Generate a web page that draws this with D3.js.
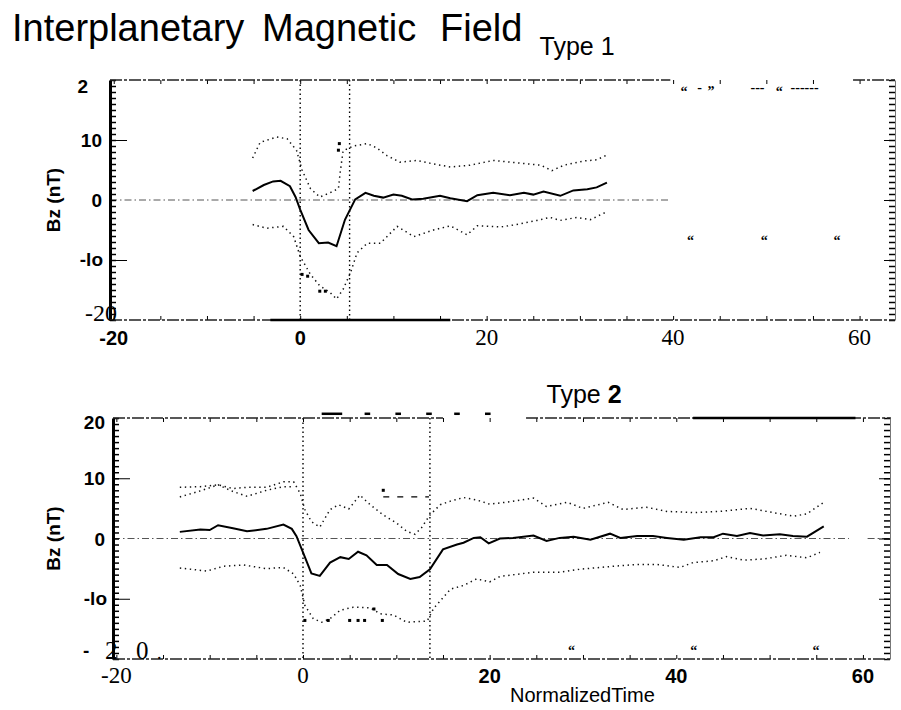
<!DOCTYPE html>
<html>
<head>
<meta charset="utf-8">
<script src="https://cdn.jsdelivr.net/npm/d3@7"></script>
<style>
  body { margin: 0; background: #fff; }
  svg { display: block; }
</style>
</head>
<body>
<div id="chart"></div>
<script>
// ---- data: [normalized time, Bz nT] ----
var t1Mean = [[-5.1,1.5],[-3.9,2.5],[-2.9,3.1],[-2.1,3.2],[-1.1,2.3],[-0.5,0.5],[0,-1.6],[0.9,-5.0],[2.0,-7.2],[3.0,-7.1],[3.9,-7.7],[4.8,-3.3],[5.9,0.1],[7.0,1.2],[7.9,0.7],[8.9,0.4],[10.0,0.9],[10.9,0.7],[12.0,0.1],[13.2,0.2],[15.0,0.7],[16.1,0.3],[17.9,-0.2],[19.0,0.8],[20.7,1.2],[22.5,0.8],[24.0,1.2],[25.0,0.9],[26.1,1.4],[27.9,0.7],[29.3,1.6],[30.8,1.8],[31.8,2.1],[32.9,2.9]];
var t1Upper = [[-5.1,7.0],[-4.3,9.6],[-2.5,10.5],[-1.4,10.2],[-0.4,8.3],[0.2,5.0],[1.1,1.9],[2.1,0.5],[3.2,1.2],[4.1,1.9],[4.3,4.7],[4.6,8.2],[5.7,9.0],[7.2,9.4],[8.2,8.7],[9.3,7.4],[10.7,6.3],[12.5,6.6],[14.3,6.0],[16.1,5.5],[18.2,5.8],[20.7,6.6],[23.2,6.2],[25.8,5.8],[27.0,4.9],[28.3,5.8],[30.4,6.5],[31.8,6.7],[32.9,7.5]];
var t1Lower = [[-5.1,-4.1],[-3.6,-4.7],[-1.8,-4.4],[-0.7,-6.1],[0,-9.4],[1.1,-12.4],[2.1,-14.3],[3.2,-15.4],[3.9,-16.5],[4.6,-14.9],[5.4,-12.1],[6.1,-8.8],[7.2,-7.2],[8.6,-7.2],[10.4,-4.4],[12.2,-6.1],[14.3,-5.0],[16.1,-4.3],[17.9,-5.8],[19.0,-4.3],[21.5,-4.5],[23.2,-4.1],[25.4,-3.4],[26.8,-2.9],[27.9,-3.4],[29.7,-2.9],[31.1,-3.3],[32.7,-2.1]];
var t1Specks = [[0.2,-12.4],[0.8,-12.7],[2.1,-15.2],[2.7,-15.2],[4.1,8.3],[4.2,9.4]];
var t1Bounds = [0, 5.3];

var t2Mean = [[-13.2,1.1],[-11.0,1.5],[-10.0,1.4],[-9.1,2.2],[-7.5,1.7],[-6.0,1.2],[-3.9,1.6],[-2.1,2.3],[-1.2,1.6],[-0.7,0.4],[0,-2.3],[0.9,-5.8],[1.8,-6.2],[2.9,-4.0],[4.0,-3.1],[4.9,-3.4],[5.9,-2.2],[6.8,-2.8],[7.9,-4.4],[9.0,-4.4],[10.2,-5.9],[11.5,-6.7],[12.5,-6.4],[13.6,-5.1],[15.0,-1.8],[16.5,-1.0],[17.2,-0.7],[18.3,0.1],[19.0,0.2],[19.9,-0.8],[21.1,0.0],[22.5,0.1],[24.7,0.5],[26.1,-0.4],[27.5,0.1],[29.0,0.3],[30.8,-0.2],[32.9,0.8],[34.0,0.1],[35.8,0.4],[37.5,0.4],[39.0,0.1],[40.8,-0.2],[42.6,0.2],[44.0,0.2],[45.0,0.8],[46.5,0.4],[47.9,0.9],[49.3,0.5],[51.1,0.7],[52.5,0.4],[54.0,0.3],[55.8,2.0]];
var t2Upper = [[-13.2,8.5],[-11.0,8.6],[-9.1,8.9],[-7.5,8.3],[-6.0,8.5],[-3.9,8.5],[-2.1,9.4],[-1.0,9.4],[-0.3,7.5],[0.2,4.8],[0.9,2.8],[1.8,1.9],[2.9,4.8],[3.8,5.6],[4.9,4.9],[6.1,7.2],[7.2,5.6],[8.6,3.9],[10.0,2.6],[11.1,1.2],[12.0,0.7],[12.7,1.8],[13.6,3.9],[14.7,5.6],[15.8,6.2],[17.2,6.8],[18.6,6.4],[20.0,5.7],[22.2,6.1],[24.7,6.7],[26.1,5.3],[28.3,6.0],[30.0,5.0],[32.7,6.0],[34.3,4.8],[36.8,5.2],[39.0,4.5],[41.8,4.3],[44.7,4.5],[47.9,5.0],[50.4,4.3],[52.6,3.7],[54.0,4.1],[55.8,6.0]];
var t2UpperGhost = [[-13.2,6.9],[-11.0,7.9],[-9.1,8.9],[-7.5,7.8],[-6.0,7.0],[-3.9,8.0],[-2.1,8.6],[-1.0,8.6]];
var t2Lower = [[-13.2,-4.9],[-10.3,-5.4],[-8.5,-4.6],[-6.4,-4.4],[-3.9,-5.0],[-2.1,-4.8],[-1.0,-5.9],[-0.3,-7.8],[0.2,-11.1],[1.1,-13.3],[2.0,-13.9],[2.9,-13.3],[4.0,-11.9],[5.4,-11.4],[7.2,-11.5],[8.3,-12.5],[9.7,-12.7],[11.1,-13.9],[13.3,-13.7],[14.0,-11.6],[15.8,-8.4],[17.2,-7.8],[18.6,-6.7],[20.0,-7.2],[21.1,-6.3],[24.7,-5.6],[27.5,-5.6],[29.7,-5.1],[33.3,-4.6],[35.8,-4.3],[37.9,-4.3],[40.4,-4.8],[41.8,-4.0],[44.0,-3.7],[45.4,-3.0],[47.2,-3.6],[49.3,-3.4],[51.8,-2.8],[54.0,-3.2],[55.4,-2.3]];
var t2Specks = [[0.2,-13.6],[2.7,-13.6],[5.0,-13.6],[5.9,-13.6],[6.6,-13.6],[8.5,-13.6],[7.6,-11.7],[8.6,8.0]];
var t2Bounds = [0, 13.6];

// tick labels as printed (scan/OCR text kept as is)
var xTicks = [-20, 0, 20, 40, 60];
var t1XLabels = ["-20", "0", "20", "40", "60"];
var t2XLabels = ["-20", "0", "20", "40", "60"];
var yTicks = [-20, -10, 0, 10, 20];
var t1YLabels = ["-20", "-lo", "0", "10", "2"];
var t2YLabels = ["", "-lo", "0", "10", "20"];
var t2BottomLabel = ["-", "2", "0", "."];   // the broken "- 2 0." at the foot of panel 2

var sans = "'Liberation Sans', Arial, sans-serif";
var serif = "'Liberation Serif', 'Times New Roman', serif";

var svg = d3.select("#chart").append("svg")
    .attr("width", 901)
    .attr("height", 710);

// title, words spread out like the original
var title = svg.append("text")
    .attr("y", 41)
    .style("font-family", sans)
    .style("font-size", "38px");
title.append("tspan").attr("x", 12).text("Interplanetary");
title.append("tspan").attr("x", 262).text("Magnetic");
title.append("tspan").attr("x", 440).text("Field");

function drawPanel(o) {
    var x = d3.scaleLinear().domain(o.xDomain).range(o.xRange);
    var y = d3.scaleLinear().domain([-20, 20]).range(o.yRange);
    var g = svg.append("g");
    var line = d3.line().x(d => x(d[0])).y(d => y(d[1]));

    // zero reference, dash-dot
    o.zeroSegs.forEach(s => {
        g.append("line")
            .attr("x1", x(s[0])).attr("x2", x(s[1]))
            .attr("y1", y(0)).attr("y2", y(0))
            .attr("stroke", "#555")
            .attr("stroke-width", 1)
            .attr("stroke-dasharray", "7,3,1.5,3");
    });

    // event boundaries
    o.bounds.forEach(b => {
        g.append("line")
            .attr("x1", x(b)).attr("x2", x(b))
            .attr("y1", y(20)).attr("y2", y(-20))
            .attr("stroke", "#000")
            .attr("stroke-width", 1.4)
            .attr("stroke-dasharray", "1.5,3");
    });

    // +/- sigma envelopes, dotted
    o.dotted.forEach(d => {
        g.append("path")
            .datum(d)
            .attr("d", line)
            .attr("fill", "none")
            .attr("stroke", "#111")
            .attr("stroke-width", 1.5)
            .attr("stroke-dasharray", "1.4,3.6");
    });

    // mean
    g.append("path")
        .datum(o.mean)
        .attr("d", line)
        .attr("fill", "none")
        .attr("stroke", "#000")
        .attr("stroke-width", 2);

    g.selectAll(".speck")
        .data(o.specks)
        .enter()
        .append("rect")
        .attr("x", d => x(d[0]) - 1.5)
        .attr("y", d => y(d[1]) - 1.5)
        .attr("width", 3)
        .attr("height", 3)
        .attr("fill", "#000");

    // left axis: dense minor ticks + longer marks at +-10
    var left = g.append("g")
        .attr("transform", "translate(" + o.xRange[0] + ",0)")
        .call(d3.axisRight(y).ticks(40).tickSize(6).tickSizeOuter(0).tickFormat(""));
    left.select(".domain").attr("stroke-width", 3);
    left.selectAll(".tick line").attr("stroke-width", 1.5);
    g.append("g")
        .attr("transform", "translate(" + o.xRange[0] + ",0)")
        .call(d3.axisRight(y).tickValues([-10, 10]).tickSize(17).tickSizeOuter(0).tickFormat(""))
        .select(".domain").remove();

    // right axis
    var right = g.append("g")
        .attr("transform", "translate(" + o.xRange[1] + ",0)")
        .call(d3.axisLeft(y).ticks(40).tickSize(6).tickSizeOuter(0).tickFormat(""));
    right.select(".domain").attr("stroke", "#777").attr("stroke-width", 1);
    right.selectAll(".tick line").attr("stroke-width", 1.5);
    g.append("g")
        .attr("transform", "translate(" + o.xRange[1] + ",0)")
        .call(d3.axisLeft(y).tickValues([-10, 0, 10]).tickSize(11).tickSizeOuter(0).tickFormat(""))
        .select(".domain").remove();

    // top and bottom frames: broken scan lines with small inward ticks
    var every5 = d3.range(-20, 65, 5);
    g.append("g")
        .attr("transform", "translate(0," + y(20) + ")")
        .call(d3.axisBottom(x).tickValues(every5).tickSize(4).tickFormat(""))
        .select(".domain").remove();
    g.append("g")
        .attr("transform", "translate(0," + y(-20) + ")")
        .call(d3.axisTop(x).tickValues(every5).tickSize(4).tickFormat(""))
        .select(".domain").remove();
    o.topSegs.forEach(s => {
        g.append("line")
            .attr("x1", x(s[0])).attr("x2", x(s[1]))
            .attr("y1", y(20)).attr("y2", y(20))
            .attr("stroke", "#222").attr("stroke-width", 1.5)
            .attr("stroke-dasharray", "12,2,3,2");
    });
    g.append("line")
        .attr("x1", x(o.xDomain[0])).attr("x2", x(o.xDomain[1]))
        .attr("y1", y(-20)).attr("y2", y(-20))
        .attr("stroke", "#222").attr("stroke-width", 1.5)
        .attr("stroke-dasharray", "12,2,3,2");
    o.solidSegs.forEach(s => {
        g.append("line")
            .attr("x1", x(s[0])).attr("x2", x(s[1]))
            .attr("y1", y(s[2])).attr("y2", y(s[2]))
            .attr("stroke", "#000").attr("stroke-width", s[3]);
    });

    // x tick labels
    g.selectAll(".xl")
        .data(xTicks)
        .enter()
        .append("text")
        .attr("x", d => x(d))
        .attr("y", o.xLabelY)
        .attr("text-anchor", "middle")
        .style("font-family", (d, i) => o.xSerif[i] ? serif : sans)
        .style("font-weight", (d, i) => o.xSerif[i] ? "normal" : "bold")
        .style("font-size", (d, i) => o.xSerif[i] ? "23px" : "20px")
        .text((d, i) => o.xLabels[i]);

    // y tick labels
    g.selectAll(".yl")
        .data(yTicks)
        .enter()
        .append("text")
        .attr("x", (d, i) => o.yLabelX[i])
        .attr("y", (d, i) => y(d) + o.yLabelDy[i])
        .attr("text-anchor", "end")
        .style("font-family", (d, i) => o.ySerif[i] ? serif : sans)
        .style("font-weight", (d, i) => o.ySerif[i] ? "normal" : "bold")
        .style("font-size", (d, i) => o.ySerif[i] ? "24px" : "19px")
        .text((d, i) => o.yLabels[i]);

    g.append("text")
        .attr("transform", "translate(60," + y(0) + ") rotate(-90)")
        .attr("text-anchor", "middle")
        .style("font-family", sans)
        .style("font-weight", "bold")
        .style("font-size", "19px")
        .text("Bz (nT)");

    // stray print marks
    g.selectAll(".noise")
        .data(o.noise)
        .enter()
        .append("text")
        .attr("x", d => x(d[0]))
        .attr("y", d => y(d[1]) + (d[2].indexOf("-") >= 0 ? 4 : 8))
        .style("font-family", serif)
        .style("font-weight", "bold")
        .style("font-size", "14px")
        .style("white-space", "pre")
        .text(d => d[2]);

    g.append("text")
        .attr("x", (x(o.xDomain[0]) + x(o.xDomain[1])) / 2 + o.typeDx)
        .attr("y", y(20) + o.typeDy)
        .style("font-family", sans)
        .style("font-size", "25px")
        .call(t => {
            t.append("tspan").text("Type ");
            t.append("tspan").style("font-weight", o.typeBold ? "bold" : "normal").text(o.typeNum);
        });

    return { x: x, y: y, g: g };
}

drawPanel({
    xDomain: [-20.4, 63.8], xRange: [110, 895], yRange: [320, 80],
    mean: t1Mean, dotted: [t1Upper, t1Lower], specks: t1Specks, bounds: t1Bounds,
    zeroSegs: [[-20.4, 39.7]],
    topSegs: [[-20.4, 39.7], [59.3, 63.8]],
    solidSegs: [[-3.2, 16.1, -20, 2.5]],
    xLabels: t1XLabels, xSerif: [false, false, true, true, true], xLabelY: 345,
    yLabels: t1YLabels, ySerif: [true, false, false, false, false],
    yLabelX: [117, 103, 102, 102, 88], yLabelDy: [1, 6, 7, 7, 13],
    noise: [[40.8, 18.6, "\u201c"], [42.6, 18.6, "-"], [43.7, 18.6, "\u201d"], [48.3, 18.6, "---"],
            [51.0, 18.6, "\u201c"], [52.6, 18.6, "------"],
            [41.5, -6.2, "\u201c"], [49.4, -6.2, "\u201c"], [57.2, -6.2, "\u201c"]],
    typeDx: 37, typeDy: -25, typeNum: "1", typeBold: false
});

var p2 = drawPanel({
    xDomain: [-20.36, 62.9], xRange: [113, 890], yRange: [659, 418],
    mean: t2Mean, dotted: [t2Upper, t2UpperGhost, t2Lower], specks: t2Specks, bounds: t2Bounds,
    zeroSegs: [[-20.36, 58.5], [60.5, 62.9]],
    topSegs: [[-20.36, 15.0], [23.9, 63]],
    solidSegs: [[41.8, 59.2, 20, 2.5], [2.0, 4.2, 20.7, 2.5], [6.6, 7.2, 20.7, 2.5], [9.9, 10.5, 20.7, 2.5],
                [13.2, 13.8, 20.7, 2.5], [16.2, 16.8, 20.7, 2.5], [19.5, 20.1, 20.7, 2.5]],
    xLabels: t2XLabels, xSerif: [true, true, false, false, false], xLabelY: 683,
    yLabels: t2YLabels, ySerif: [true, false, false, false, false],
    yLabelX: [160, 107, 105, 105, 105], yLabelDy: [0, 6, 7, 7, 11],
    noise: [[28.4, -18.0, "\u201c"], [41.5, -18.0, "\u201c"], [54.6, -18.0, "\u201c"]],
    typeDx: 45, typeDy: -15, typeNum: "2", typeBold: true
});

// the "- 2 0." label, pieces scattered across the axis
var bl = p2.g.append("text")
    .attr("y", p2.y(-20))
    .style("font-family", serif)
    .style("font-size", "25px");
bl.append("tspan").attr("x", 83).attr("dy", -2)
    .style("font-family", sans).style("font-weight", "bold").style("font-size", "19px")
    .text(t2BottomLabel[0]);
bl.append("tspan").attr("x", 105).attr("dy", 2).text(t2BottomLabel[1]);
bl.append("tspan").attr("x", 136).text(t2BottomLabel[2]);
bl.append("tspan").attr("x", 157).style("font-size", "18px").text(t2BottomLabel[3]);

// dashed stub just above the type 2 envelope
p2.g.append("path")
    .datum([[8.6, 6.9], [13.5, 6.9]])
    .attr("d", d3.line().x(d => p2.x(d[0])).y(d => p2.y(d[1])))
    .attr("stroke", "#000")
    .attr("stroke-width", 1.3)
    .attr("stroke-dasharray", "6,8");

svg.append("text")
    .attr("x", 510)
    .attr("y", 702)
    .style("font-family", sans)
    .style("font-size", "20px")
    .text("NormalizedTime");
</script>
</body>
</html>
